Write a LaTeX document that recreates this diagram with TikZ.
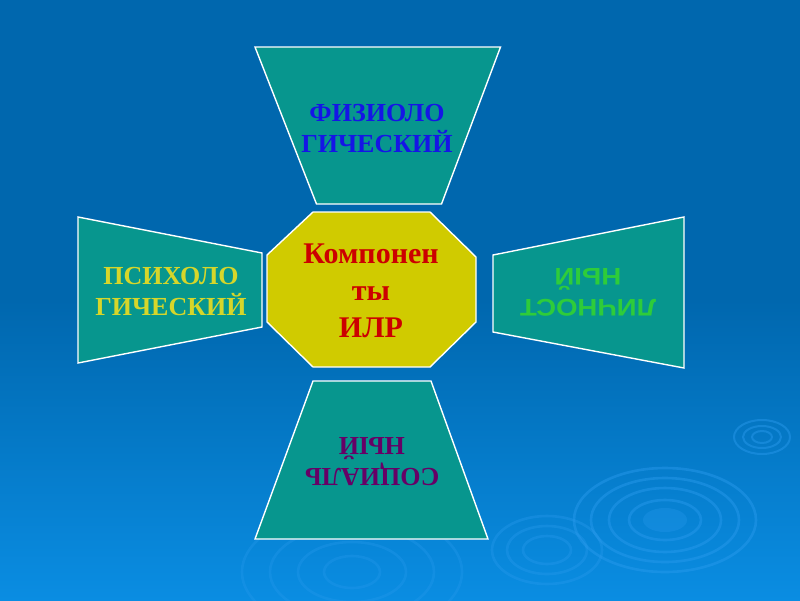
\documentclass[tikz,border=0pt]{standalone}
\usepackage{fontspec}
\setmainfont{Liberation Serif}
\newfontfamily\arialfont[FakeStretch=1.15]{Liberation Sans}
\begin{document}
\begin{tikzpicture}[x=1pt,y=-1pt,
  card/.style={fill=tealc,draw=white,line width=1.4pt,line join=miter},
  hub/.style={fill=yellowc,draw=white,line width=1.4pt},
  lbl/.style={inner sep=0pt,align=center,font=\fontsize{26}{31}\selectfont\bfseries},
  ripple/.style={draw=ripc,line width=2.6pt,opacity=0.45}]
\definecolor{bgtop}{HTML}{0067AE}
\definecolor{bgbot}{HTML}{0A8DE2}
\definecolor{tealc}{HTML}{07968E}
\definecolor{yellowc}{HTML}{D0CB00}
\definecolor{ripc}{HTML}{2A9BEE}
\definecolor{bluet}{HTML}{1515E6}
\definecolor{redt}{HTML}{CC0000}
\definecolor{yellowt}{HTML}{D6D62A}
\definecolor{greent}{HTML}{2ECC3A}
\definecolor{purplet}{HTML}{660066}
% background
\useasboundingbox (0,0) rectangle (800,600);
\fill[bgtop] (0,0) rectangle (800,300.5);
\shade[top color=bgtop,bottom color=bgbot] (0,300) rectangle (800,600);
% ripples
\foreach \rx/\ry in {91/52,74/42,56/32,36/20}{\draw[ripple] (665,520) ellipse[x radius=\rx,y radius=\ry];}
\fill[ripc,opacity=0.3] (665,520) ellipse[x radius=22,y radius=12];
\foreach \rx/\ry in {28/17,19/11,10/6}{\draw[ripple,line width=2pt] (762,437) ellipse[x radius=\rx,y radius=\ry];}
\foreach \rx/\ry in {55/34,40/24,24/14}{\draw[ripple,opacity=0.35] (547,550) ellipse[x radius=\rx,y radius=\ry];}
\foreach \rx/\ry in {110/62,82/46,54/30,28/16}{\draw[ripple,opacity=0.3] (352,572) ellipse[x radius=\rx,y radius=\ry];}
% shapes
\draw[card] (255,47) -- (500.5,47) -- (441.5,204) -- (316.5,204) -- cycle;
\draw[card] (78,217) -- (262,253) -- (262,327) -- (78,363) -- cycle;
\draw[card] (684,217) -- (684,368) -- (493,332) -- (493,255) -- cycle;
\draw[card] (313,381) -- (431,381) -- (488,539) -- (255,539) -- cycle;
\draw[hub] (313,212) -- (430,212) -- (476,257) -- (476,322) -- (430,367) -- (313,367) -- (267,322) -- (267,255) -- cycle;
% labels
\node[lbl,text=bluet] (fiz) at (377,129) {ФИЗИОЛО\\ГИЧЕСКИЙ};
\node[lbl,text=yellowt] (psy) at (171,292) {ПСИХОЛО\\ГИЧЕСКИЙ};
\node[lbl,text=greent,rotate=180,font=\arialfont\fontsize{24}{31}\selectfont\bfseries] (lich) at (588,292) {ЛИЧНОСТ\\НЫЙ};
\node[lbl,text=purplet,rotate=180] (soc) at (372,462) {СОЦИАЛЬ\\НЫЙ};
\node[lbl,text=redt,font=\fontsize{30}{37}\selectfont\bfseries] (hubt) at (371,291) {Компонен\\ты\\ИЛР};
\end{tikzpicture}
\end{document}
